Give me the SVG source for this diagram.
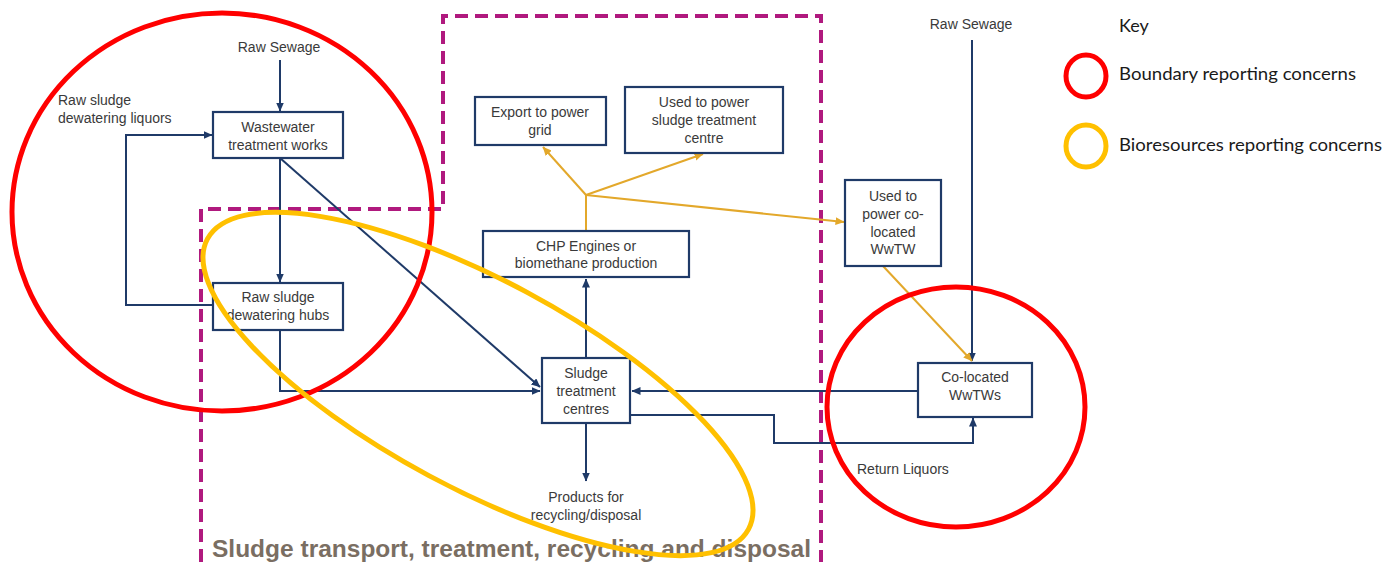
<svg xmlns="http://www.w3.org/2000/svg" width="1396" height="562" viewBox="0 0 1396 562">
<defs>
<marker id="an" markerWidth="9" markerHeight="8" refX="8.5" refY="4" orient="auto" markerUnits="userSpaceOnUse"><path d="M0,0 L9,4 L0,8 z" fill="#1F3A68"/></marker>
<marker id="ag" markerWidth="9" markerHeight="8" refX="8.5" refY="4" orient="auto" markerUnits="userSpaceOnUse"><path d="M0,0 L9,4 L0,8 z" fill="#E3A82B"/></marker>
</defs>
<style>
.box{fill:#fff;stroke:#1F3A68;stroke-width:2.2}
.t{font-family:"Liberation Sans",Arial,sans-serif;font-size:14px;fill:#3a3a3a;text-anchor:middle}
.tl{text-anchor:start}
.nv{fill:none;stroke:#1F3A68;stroke-width:2}
.gd{fill:none;stroke:#E3A82B;stroke-width:2}
.key{font-family:Lato,"Liberation Sans",sans-serif;font-size:18px;fill:#1a1a1a}
</style>
<rect width="1396" height="562" fill="#fff"/>

<g id="boundary">
<path d="M201,562 L201,209 L443,209 L443,16 L821,16 L821,562" fill="none" stroke="#B0197E" stroke-width="4" stroke-dasharray="13,7"/>
<text x="212" y="557" font-family="'Liberation Sans',Arial,sans-serif" font-size="24" font-weight="bold" fill="#7a6e62" textLength="599" lengthAdjust="spacingAndGlyphs">Sludge transport, treatment, recycling and disposal</text>
</g>

<g id="connectors">
<line class="nv" x1="280" y1="60" x2="280" y2="111" marker-end="url(#an)"/>
<line class="nv" x1="280" y1="158" x2="280" y2="282" marker-end="url(#an)"/>
<polyline class="nv" points="213,305 126,305 126,135 212,135" marker-end="url(#an)"/>
<line class="nv" x1="280" y1="158" x2="540" y2="387" marker-end="url(#an)"/>
<polyline class="nv" points="280,330 280,391 540,391" marker-end="url(#an)"/>
<line class="nv" x1="586" y1="357" x2="586" y2="279" marker-end="url(#an)"/>
<line class="nv" x1="586" y1="423" x2="586" y2="481" marker-end="url(#an)"/>
<line class="nv" x1="918" y1="391" x2="632" y2="391" marker-end="url(#an)"/>
<polyline class="nv" points="631,415 774,415 774,443 973,443 973,418" marker-end="url(#an)"/>
<line class="nv" x1="972" y1="40" x2="972" y2="361" marker-end="url(#an)"/>
<line class="gd" x1="586" y1="231" x2="586" y2="195"/>
<line class="gd" x1="586" y1="195" x2="543" y2="147" marker-end="url(#ag)"/>
<line class="gd" x1="586" y1="195" x2="703" y2="154" marker-end="url(#ag)"/>
<line class="gd" x1="586" y1="195" x2="844" y2="222" marker-end="url(#ag)"/>
<line class="gd" x1="883" y1="266" x2="972" y2="361" marker-end="url(#ag)"/>
</g>

<g id="raw-sewage-left"><text class="t" x="279" y="52">Raw Sewage</text></g>
<g id="raw-sludge-liquors"><text class="t tl" x="58" y="105">Raw sludge</text><text class="t tl" x="58" y="123">dewatering liquors</text></g>
<g id="wwtw"><rect class="box" x="213" y="112" width="130" height="46"/><text class="t" x="278" y="132">Wastewater</text><text class="t" x="278" y="150">treatment works</text></g>
<g id="hubs"><rect class="box" x="213" y="283" width="130" height="47"/><text class="t" x="278" y="302">Raw sludge</text><text class="t" x="278" y="320">dewatering hubs</text></g>
<g id="stc"><rect class="box" x="542" y="358" width="88" height="65"/><text class="t" x="586" y="378">Sludge</text><text class="t" x="586" y="396">treatment</text><text class="t" x="586" y="414">centres</text></g>
<g id="chp"><rect class="box" x="483" y="231" width="206" height="46"/><text class="t" x="586" y="251">CHP Engines or</text><text class="t" x="586" y="268">biomethane production</text></g>
<g id="export"><rect class="box" x="475" y="97" width="131" height="48"/><text class="t" x="540" y="117">Export to power</text><text class="t" x="540" y="135">grid</text></g>
<g id="power-stc"><rect class="box" x="625" y="87" width="158" height="66"/><text class="t" x="704" y="107">Used to power</text><text class="t" x="704" y="125">sludge treatment</text><text class="t" x="704" y="143">centre</text></g>
<g id="power-colocated"><rect class="box" x="845" y="180" width="96" height="86"/><text class="t" x="893" y="201">Used to</text><text class="t" x="893" y="219">power co-</text><text class="t" x="893" y="237">located</text><text class="t" x="893" y="254">WwTW</text></g>
<g id="raw-sewage-right"><text class="t" x="971" y="29">Raw Sewage</text></g>
<g id="colocated"><rect class="box" x="918" y="363" width="114" height="54"/><text class="t" x="975" y="382">Co-located</text><text class="t" x="975" y="400">WwTWs</text></g>
<g id="products"><text class="t" x="586" y="502">Products for</text><text class="t" x="586" y="520">recycling/disposal</text></g>
<g id="return-liquors"><text class="t tl" x="857" y="474">Return Liquors</text></g>

<g id="concerns">
<ellipse cx="222" cy="212" rx="210" ry="199" fill="none" stroke="#FF0000" stroke-width="5"/>
<ellipse cx="956" cy="407" rx="129" ry="120" fill="none" stroke="#FF0000" stroke-width="5"/>
<ellipse cx="478" cy="384" rx="307" ry="104" transform="rotate(28.2 478 384)" fill="none" stroke="#FFC000" stroke-width="5"/>
</g>

<g id="key">
<text class="key" x="1119" y="32">Key</text>
<ellipse cx="1086" cy="76" rx="20" ry="21" fill="none" stroke="#FF0000" stroke-width="5"/>
<text class="key" x="1119" y="80" textLength="237" lengthAdjust="spacingAndGlyphs">Boundary reporting concerns</text>
<ellipse cx="1086" cy="146" rx="20" ry="21" fill="none" stroke="#FFC000" stroke-width="5"/>
<text class="key" x="1119" y="151" textLength="263" lengthAdjust="spacingAndGlyphs">Bioresources reporting concerns</text>
</g>
</svg>
